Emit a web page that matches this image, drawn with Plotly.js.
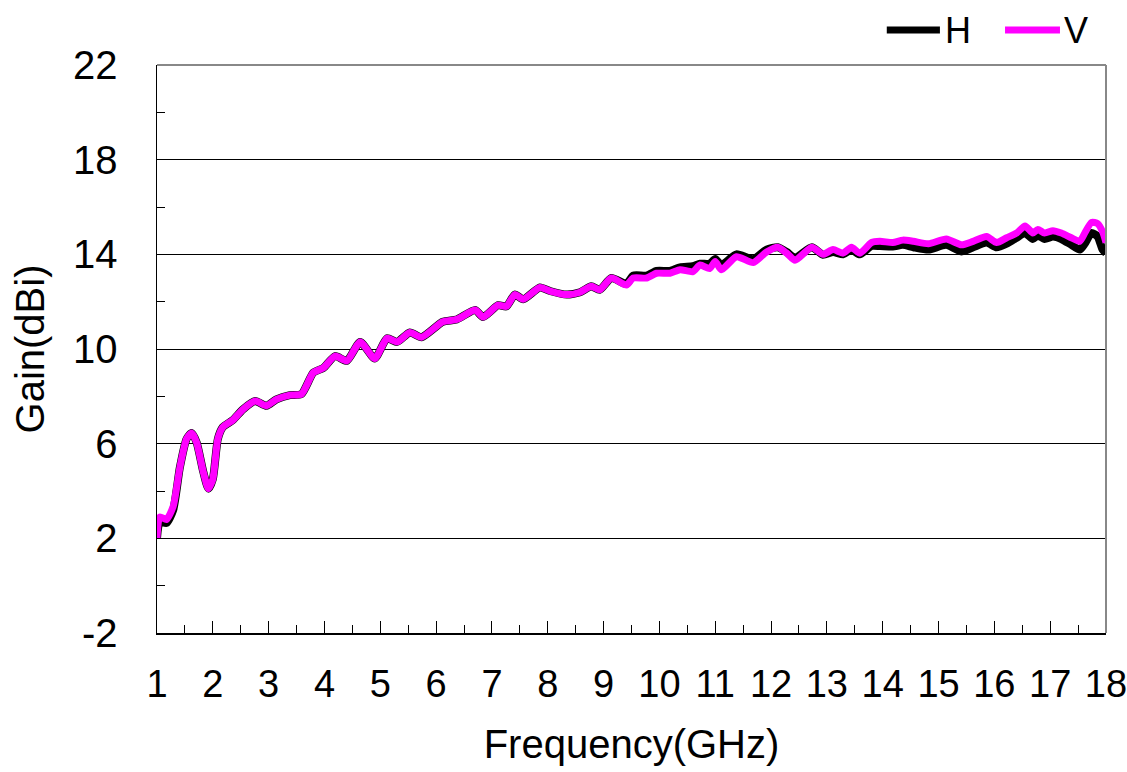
<!DOCTYPE html>
<html>
<head>
<meta charset="utf-8">
<script src="https://cdn.plot.ly/plotly-3.0.1.min.js"></script>
<style>html,body{margin:0;padding:0;background:#fff;}#chart{width:1127px;height:772px;}</style>
</head>
<body>
<div id="chart"></div>
<script>
const freq = [1.0, 1.05, 1.17, 1.29, 1.41, 1.53, 1.62, 1.71, 1.83, 1.92, 2.0, 2.09, 2.18, 2.36, 2.54, 2.76, 2.96, 3.14, 3.38, 3.59, 3.8, 3.98, 4.19, 4.4, 4.64, 4.9, 5.12, 5.3, 5.53, 5.74, 6.12, 6.37, 6.7, 6.84, 7.11, 7.26, 7.41, 7.56, 7.86, 8.04, 8.34, 8.58, 8.78, 8.93, 9.14, 9.41, 9.53, 9.77, 9.95, 10.19, 10.37, 10.6, 10.73, 10.9, 11.0, 11.11, 11.38, 11.68, 11.92, 12.12, 12.28, 12.43, 12.73, 12.93, 13.11, 13.29, 13.44, 13.59, 13.8, 13.95, 14.18, 14.36, 14.55, 14.82, 15.14, 15.41, 15.62, 15.86, 16.04, 16.22, 16.4, 16.55, 16.69, 16.78, 16.9, 17.05, 17.2, 17.38, 17.53, 17.62, 17.74, 17.85, 17.94, 18.0];

const gainV = [2.0, 2.9, 2.8, 3.35, 5.0, 6.2, 6.45, 6.05, 4.8, 4.1, 4.5, 6.2, 6.7, 7.0, 7.45, 7.8, 7.6, 7.87, 8.05, 8.1, 9.0, 9.2, 9.7, 9.5, 10.3, 9.6, 10.45, 10.3, 10.7, 10.5, 11.15, 11.25, 11.65, 11.35, 11.85, 11.8, 12.3, 12.1, 12.6, 12.45, 12.3, 12.4, 12.65, 12.5, 13.0, 12.7, 13.0, 13.0, 13.2, 13.2, 13.35, 13.27, 13.55, 13.4, 13.7, 13.35, 13.9, 13.65, 14.1, 14.3, 14.05, 13.75, 14.3, 14.0, 14.2, 14.05, 14.3, 14.05, 14.5, 14.55, 14.5, 14.6, 14.55, 14.45, 14.65, 14.4, 14.55, 14.75, 14.5, 14.7, 14.9, 15.2, 14.9, 15.05, 14.9, 15.0, 14.9, 14.7, 14.55, 14.9, 15.35, 15.3, 14.95, 14.5];

const gainH = [2.0, 2.7, 2.65, 3.2, 5.0, 6.2, 6.45, 6.05, 4.8, 4.1, 4.5, 6.2, 6.7, 7.0, 7.45, 7.8, 7.6, 7.87, 8.05, 8.1, 9.0, 9.2, 9.7, 9.5, 10.3, 9.6, 10.45, 10.3, 10.7, 10.5, 11.15, 11.25, 11.65, 11.35, 11.85, 11.8, 12.3, 12.1, 12.6, 12.45, 12.3, 12.4, 12.65, 12.5, 13.0, 12.75, 13.1, 13.1, 13.3, 13.3, 13.45, 13.5, 13.6, 13.6, 13.8, 13.55, 14.0, 13.8, 14.2, 14.3, 14.1, 13.85, 14.3, 13.98, 14.1, 14.0, 14.2, 14.0, 14.35, 14.35, 14.33, 14.4, 14.3, 14.2, 14.4, 14.12, 14.3, 14.5, 14.3, 14.45, 14.7, 14.9, 14.65, 14.8, 14.65, 14.75, 14.65, 14.4, 14.2, 14.45, 14.9, 14.75, 14.2, 14.05];

const seriesNames = ['H', 'V'];
const seriesColors = ['#000000', '#ff00ff'];
const xTickVals = [1,2,3,4,5,6,7,8,9,10,11,12,13,14,15,16,17,18];
const yTickVals = [-2, 2, 6, 10, 14, 18, 22];
const yTickText = ['-2', '2', '6', '10', '14', '18', '22'];

const font = 'Liberation Sans, Arial, sans-serif';

const traces = [
  {x: freq, y: gainH, name: seriesNames[0], mode: 'lines', showlegend: false,
   line: {color: seriesColors[0], width: 8, shape: 'spline', smoothing: 0.6}},
  {x: freq, y: gainV, name: seriesNames[1], mode: 'lines', showlegend: false,
   line: {color: seriesColors[1], width: 7, shape: 'spline', smoothing: 0.6}}
];

// manual legend (long line samples, as in the reference)
const legendY = 1.0616;
const legendItems = [
  {x0: 0.769, x1: 0.825, tx: 0.828},
  {x0: 0.8936, x1: 0.9515, tx: 0.9536}
];
const shapes = [
  {type: 'line', xref: 'paper', yref: 'paper', x0: 0, x1: 1, y0: 1, y1: 1, line: {color: '#888', width: 2}},
  {type: 'line', xref: 'paper', yref: 'paper', x0: 1, x1: 1, y0: 0, y1: 1, line: {color: '#888', width: 2}}
];
const annotations = [];
legendItems.forEach((it, i) => {
  shapes.push({type: 'line', xref: 'paper', yref: 'paper', x0: it.x0, x1: it.x1, y0: legendY, y1: legendY,
               line: {color: seriesColors[i], width: 7}});
  annotations.push({xref: 'paper', yref: 'paper', x: it.tx, y: legendY, xanchor: 'left', yanchor: 'middle',
                    text: seriesNames[i], showarrow: false, font: {size: 36, family: font, color: '#000'}});
});

const layout = {
  width: 1127, height: 772,
  margin: {l: 157, r: 21, t: 65, b: 139},
  paper_bgcolor: '#fff', plot_bgcolor: '#fff',
  font: {family: font, color: '#000'},
  showlegend: false,
  xaxis: {
    range: [1, 18], tickmode: 'array', tickvals: xTickVals,
    ticks: 'inside', ticklen: 12, tickwidth: 1, tickcolor: '#000',
    minor: {dtick: 0.5, tick0: 1, ticks: 'inside', ticklen: 8, tickcolor: '#000', tickwidth: 1, showgrid: false},
    showgrid: false, zeroline: false,
    showline: true, linecolor: '#000', linewidth: 1.5,
    tickfont: {size: 38, family: font, color: '#000'},
    ticklabelstandoff: 17,
    ticklabeloverflow: 'allow',
    title: {text: 'Frequency(GHz)', font: {size: 40, family: font, color: '#000'}, standoff: 26}
  },
  yaxis: {
    range: [-2, 22], tickmode: 'array', tickvals: yTickVals, ticktext: yTickText,
    ticks: 'inside', ticklen: 8, tickwidth: 1, tickcolor: '#000',
    minor: {dtick: 2, tick0: 0, ticks: 'inside', ticklen: 8, tickcolor: '#000', tickwidth: 1, showgrid: false},
    showgrid: true, gridcolor: '#000', gridwidth: 1,
    zeroline: false,
    showline: true, linecolor: '#000', linewidth: 1.5,
    tickfont: {size: 40, family: font, color: '#000'},
    ticklabelstandoff: 30,
    ticklabeloverflow: 'allow',
    title: {text: 'Gain(dBi)', font: {size: 40, family: font, color: '#000'}, standoff: 16}
  },
  shapes: shapes,
  annotations: annotations
};

Plotly.newPlot('chart', traces, layout, {displayModeBar: false, staticPlot: true});
</script>
</body>
</html>
